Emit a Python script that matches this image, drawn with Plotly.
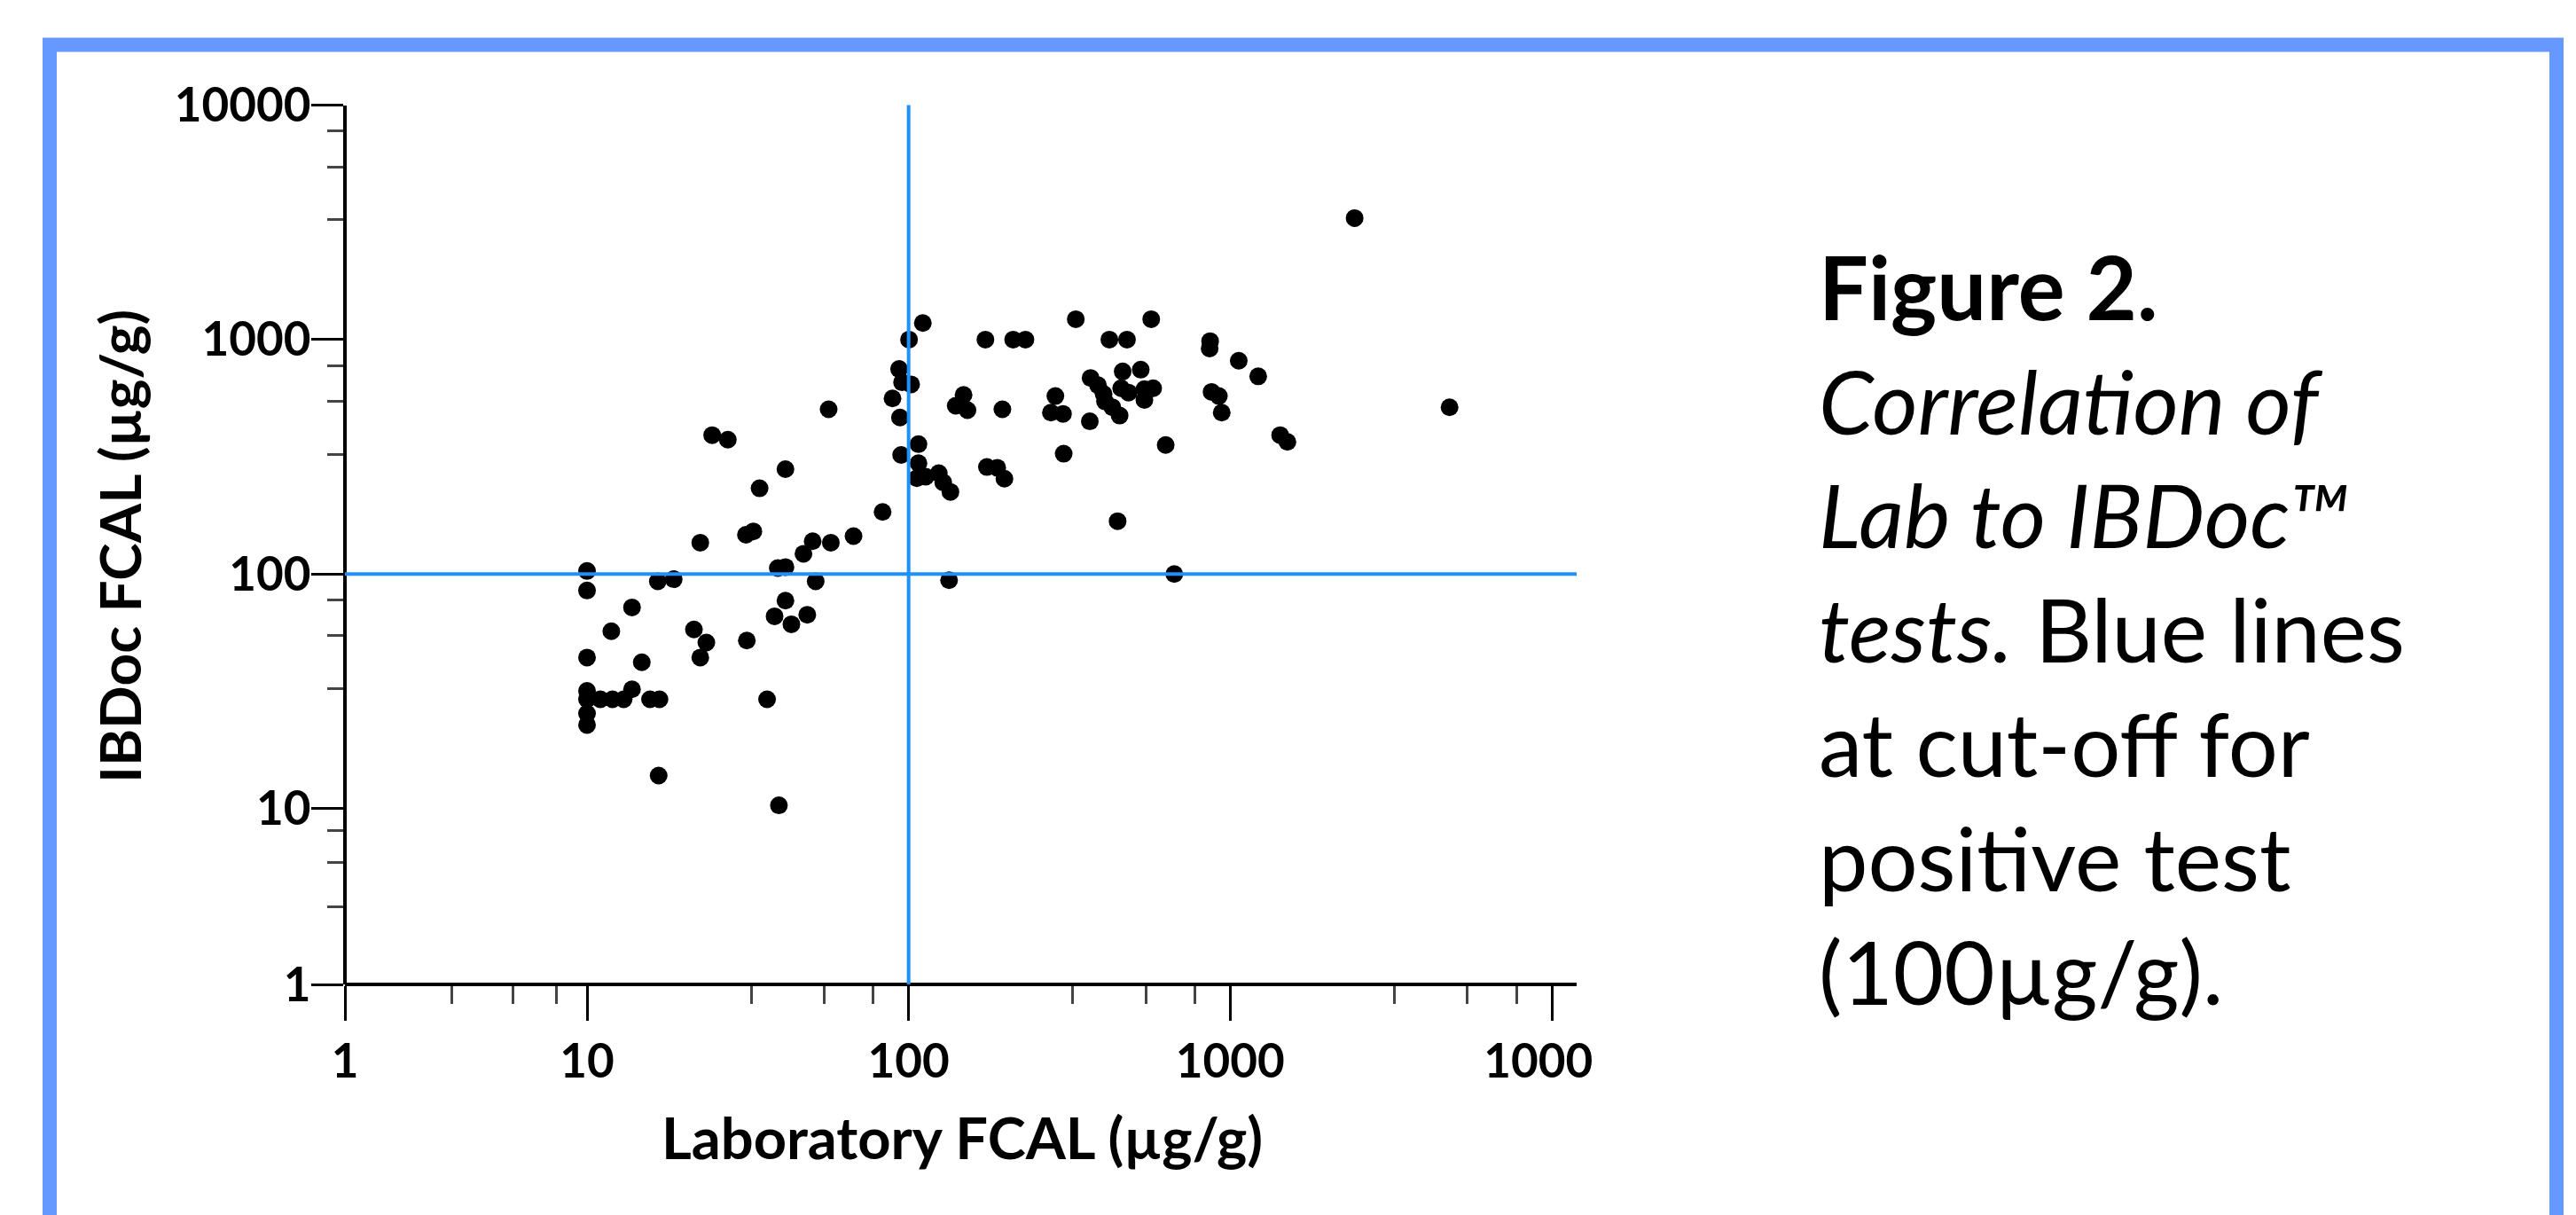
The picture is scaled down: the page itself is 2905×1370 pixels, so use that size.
import plotly.graph_objects as go

# ---------------- data ----------------
lab_fcal = [
    83, 22.5, 31.2, 32.9, 67.4, 50.3, 57.3, 47.1, 39.2, 41.4,
    10, 10, 16.6, 18.6, 51.4, 133.6, 13.8, 41.4, 38.3, 43.2,
    48.4, 11.9, 21.5, 23.5, 22.5, 31.4, 10, 14.8, 10, 10,
    11, 12, 13, 13.8, 15.7, 16.8, 10, 10, 36.3, 16.7,
    39.5,
    110.7, 100.3, 173.3, 211.4, 230.8, 93.4, 95.4, 101.8, 89.1, 94,
    56.4, 148.2, 140.1, 152.4, 195.7, 24.5, 27.4, 107.3, 94.8, 107.3,
    106.1, 113, 124.1, 128.1, 134.9, 175.2, 188.6, 198.6, 41.4, 34.4,
    2437, 331, 568, 421, 477.5, 866, 863, 1063, 1222, 4809,
    286, 277, 302, 366, 303.5, 630, 368, 388, 404, 408,
    430, 453, 463, 527, 458, 483, 541, 576, 541, 875,
    922, 941, 1430, 1506,
    446.5, 670,
]
ibdoc_fcal = [
    184, 136, 147, 152, 145, 138, 136, 122, 106, 107,
    103, 85, 93, 95, 93, 94, 72, 77, 66, 61,
    67, 57, 58, 51, 44, 52, 44, 42, 31.7, 29.2,
    29.2, 29.2, 29.2, 32.2, 29.2, 29.2, 25.4, 22.7, 29.2, 13.8,
    10.3,
    1176, 1000, 1000, 1000, 1000, 749, 657, 644, 561, 465,
    504, 581, 522, 500, 504, 391, 374, 358, 322, 297,
    256, 260, 269, 246, 224, 286, 284, 255, 280, 232,
    3299, 1222, 1222, 1000, 1000, 985, 916, 812, 697, 514,
    574, 488, 482, 448, 326, 355, 686, 639, 586, 545,
    514.5, 474, 731, 744, 620, 594, 615, 620, 553, 598,
    574, 488, 391, 366,
    168, 100,
]

cutoff = 100  # positive-test cut-off (µg/g)

major_ticks = [10, 100, 1000, 10000]
x_major_text = ["10", "100", "1000", "1000\u2007"]
y_major_text = ["10", "100", "1000", "10000"]
minor_ticks = [32.4, 54.6, 77.6, 324, 546, 776, 3240, 5460, 7760]
low_major = [1]
low_text = ["1"]
low_minor = [2.76, 4.94, 7.5]

# ---------------- layout geometry (pixels of a 2905 x 1370 canvas) ----------------
W, H = 2905, 1370
def px(v):
    return v / W
def py(v):
    return 1 - v / H

AX_X = 389      # y-axis line
AX_Y = 1110     # x-axis line
X10 = 662       # x = 10
XEND = 1778     # right end of x axis
Y10 = 911.5     # y = 10
YTOP = 118.6    # y = 10000

font_family = "Lato, 'Open Sans', sans-serif"
tick_font = dict(family=font_family, size=53, color="black", weight="bold")

fig = go.Figure()
fig.add_trace(go.Scatter(
    x=lab_fcal, y=ibdoc_fcal, mode="markers",
    marker=dict(size=20, color="black", line=dict(width=0)),
    cliponaxis=False, showlegend=False, hoverinfo="x+y",
))
# empty trace that registers the short low-decade axes segment
fig.add_trace(go.Scatter(x=[], y=[], xaxis="x2", yaxis="y2",
                         showlegend=False, hoverinfo="skip"))

common = dict(
    type="log", showgrid=False, zeroline=False, showline=True,
    linecolor="black", linewidth=4, ticks="outside", tickwidth=3,
    tickcolor="black", tickfont=tick_font, tickmode="array",
    anchor="free", automargin=False,
)

xmain_range_top = 1 + (XEND - X10) / ((1750 - X10) / 3)

fig.update_layout(
    template="none",
    width=W, height=H,
    margin=dict(l=0, r=0, t=0, b=0, pad=0, autoexpand=False),
    paper_bgcolor="white", plot_bgcolor="rgba(0,0,0,0)",
    showlegend=False,
    xaxis=dict(common, domain=[px(X10), px(XEND)], range=[1, xmain_range_top],
               position=py(AX_Y), tickvals=major_ticks, ticktext=x_major_text,
               ticklen=39,
               minor=dict(tickmode="array", tickvals=minor_ticks, ticks="outside",
                          ticklen=20, tickwidth=3, tickcolor="#444", showgrid=False)),
    yaxis=dict(common, domain=[py(Y10), py(YTOP)], range=[1, 4],
               position=px(AX_X), tickvals=major_ticks, ticktext=y_major_text,
               ticklen=36, ticklabelstandoff=-10,
               minor=dict(tickmode="array", tickvals=minor_ticks, ticks="outside",
                          ticklen=18, tickwidth=3, tickcolor="#444", showgrid=False)),
    xaxis2=dict(common, domain=[px(AX_X), px(X10)], range=[0, 1],
                position=py(AX_Y), tickvals=low_major, ticktext=low_text,
                ticklen=39,
                minor=dict(tickmode="array", tickvals=low_minor, ticks="outside",
                           ticklen=20, tickwidth=3, tickcolor="#444", showgrid=False)),
    yaxis2=dict(common, domain=[py(AX_Y), py(Y10)], range=[0, 1],
                position=px(AX_X), tickvals=low_major, ticktext=low_text,
                ticklen=36, ticklabelstandoff=-10,
                minor=dict(tickmode="array", tickvals=low_minor, ticks="outside",
                           ticklen=18, tickwidth=3, tickcolor="#444", showgrid=False)),
)

blue = "#1E90FF"
# cut-off lines
fig.add_shape(type="line", xref="x", yref="paper", x0=cutoff, x1=cutoff,
              y0=py(AX_Y), y1=py(YTOP), line=dict(color=blue, width=4), layer="above")
fig.add_shape(type="line", xref="paper", yref="y", x0=px(AX_X), x1=px(XEND),
              y0=cutoff, y1=cutoff, line=dict(color=blue, width=4), layer="above")

# light-blue frame (open at the bottom of the picture)
frame = "#6699FF"
fig.add_shape(type="rect", xref="paper", yref="paper",
              x0=px(56), x1=px(2883), y0=py(50.5), y1=py(1500),
              line=dict(color=frame, width=16), fillcolor="rgba(0,0,0,0)", layer="below")

fig.add_annotation(text="Laboratory FCAL (\u00b5g/g)", xref="paper", yref="paper",
                   x=px(1085), y=py(1282), xanchor="center", yanchor="middle",
                   showarrow=False,
                   font=dict(family=font_family, size=65, color="black", weight="bold"))
fig.add_annotation(text="IBDoc FCAL (\u00b5g/g)", xref="paper", yref="paper",
                   x=px(134), y=py(616), xanchor="center", yanchor="middle",
                   textangle=-90, showarrow=False,
                   font=dict(family=font_family, size=64, color="black", weight="bold"))

caption = ("<b>Figure 2.</b><br><i>Correlation of</i><br><i>Lab to IBDoc\u2122</i><br>"
           "<i>tests.</i> Blue lines<br>at cut-off for<br>positive test<br>(100\u00b5g/g).")
fig.add_annotation(text=caption, xref="paper", yref="paper",
                   x=px(2049), y=py(708), xanchor="left", yanchor="middle",
                   align="left", showarrow=False,
                   font=dict(family=font_family, size=99, color="black"))

fig.write_html("out.html",
               config={"displayModeBar": False},
               post_script="document.body.style.margin='0';document.body.style.overflow='hidden';")
